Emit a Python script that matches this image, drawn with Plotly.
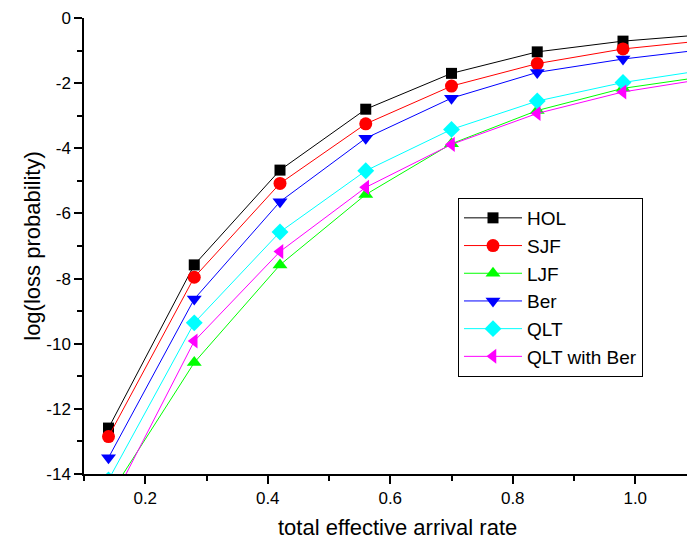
import plotly.graph_objects as go

rate = [0.14, 0.28, 0.42, 0.56, 0.70, 0.84, 0.98, 1.12]
hol = [-12.59, -7.58, -4.67, -2.80, -1.70, -1.04, -0.71, -0.50]
sjf = [-12.85, -7.96, -5.08, -3.25, -2.09, -1.40, -0.95, -0.68]
ljf = [-14.70, -10.58, -7.58, -5.42, -3.86, -2.84, -2.16, -1.78]
ber = [-13.50, -8.63, -5.64, -3.69, -2.46, -1.67, -1.26, -0.95]
qlt = [-14.18, -9.36, -6.57, -4.69, -3.42, -2.55, -1.98, -1.58]
qltb = [-15.05, -9.92, -7.17, -5.20, -3.88, -2.93, -2.27, -1.85]

names = ["HOL", "SJF", "LJF", "Ber", "QLT", "QLT with Ber"]
series = [hol, sjf, ljf, ber, qlt, qltb]
colors = ["#000000", "#ff0000", "#00ff00", "#0000ff", "#00ffff", "#ff00ff"]
symbols = ["square", "circle", "triangle-up", "triangle-down", "diamond", "triangle-left"]
sizes = [11, 13, 13, 13, 13, 13]

x_ticks = [0.2, 0.4, 0.6, 0.8, 1.0]
x_ticktext = ["0.2", "0.4", "0.6", "0.8", "1.0"]
y_ticks = [0, -2, -4, -6, -8, -10, -12, -14]
y_ticktext = ["0", "-2", "-4", "-6", "-8", "-10", "-12", "-14"]
x_title = "total effective arrival rate"
y_title = "log(loss probability)"

fig = go.Figure()
for n, s, c, sym, sz in zip(names, series, colors, symbols, sizes):
    fig.add_trace(go.Scatter(
        x=rate, y=s, name=n, mode="lines+markers", legendgroup=n,
        line=dict(color=c, width=1),
        marker=dict(symbol=sym, size=sz, color=c, line=dict(width=0)),
    ))

font = "Liberation Sans, Arial, sans-serif"
fig.update_layout(
    width=687, height=543,
    margin=dict(l=84, r=0, t=18, b=69),
    plot_bgcolor="white", paper_bgcolor="white",
    font=dict(family=font, size=16, color="black"),
    showlegend=True,
    legend=dict(
        x=(458 - 84) / 603, y=(474 - 198) / 456, xanchor="left", yanchor="top",
        bordercolor="black", borderwidth=1, bgcolor="white",
        font=dict(family=font, size=19, color="black"),
        traceorder="grouped", tracegroupgap=0,
        itemwidth=58,
    ),
    xaxis=dict(
        range=[0.1, 0.1 + 603 / 612.5], showgrid=False, zeroline=False,
        showline=True, linecolor="black", linewidth=1.5,
        ticks="outside", ticklen=8, tickwidth=1.5, tickcolor="black",
        tickvals=x_ticks, ticktext=x_ticktext,
        minor=dict(ticks="outside", ticklen=5, tickwidth=1.5, tickcolor="black",
                   tickvals=[0.1, 0.3, 0.5, 0.7, 0.9], showgrid=False),
        tickfont=dict(size=17),
    ),
    yaxis=dict(
        range=[-14, 0], showgrid=False, zeroline=False,
        showline=True, linecolor="black", linewidth=1.5,
        ticks="outside", ticklen=8, tickwidth=1.5, tickcolor="black",
        tickvals=y_ticks, ticktext=y_ticktext,
        minor=dict(ticks="outside", ticklen=5, tickwidth=1.5, tickcolor="black",
                   tickvals=[-1, -3, -5, -7, -9, -11, -13], showgrid=False),
        title=dict(text=y_title, font=dict(size=22), standoff=0),
        tickfont=dict(size=17),
    ),
    annotations=[dict(
        text=x_title, xref="paper", yref="paper",
        x=(397 - 84) / 603, y=-(527 - 474) / 456,
        xanchor="center", yanchor="middle", showarrow=False,
        font=dict(family=font, size=22, color="black"),
    )],
)

fig.write_html("out.html")
